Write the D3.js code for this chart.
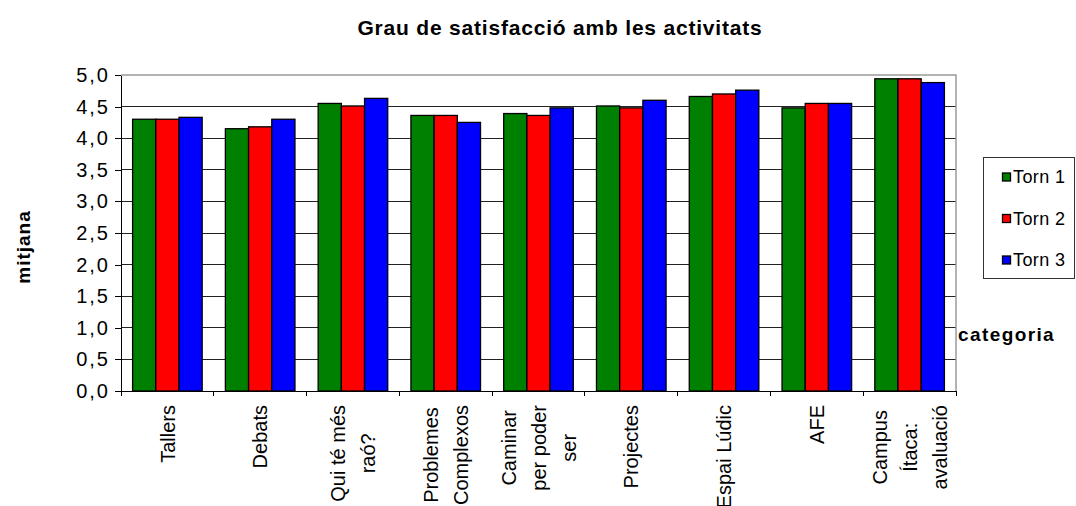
<!DOCTYPE html>
<html>
<head>
<meta charset="utf-8">
<script src="https://cdn.jsdelivr.net/npm/d3@7"></script>
<style>
  body { margin: 0; background: #fff; }
  svg { display: block; font-family: "Liberation Sans", Arial, sans-serif; }
  .axis path, .axis line { stroke: #000; shape-rendering: crispEdges; }
  .grid line { stroke: #222; shape-rendering: crispEdges; }
  .bar { stroke: #000; stroke-width: 1.3; }
</style>
</head>
<body>
<div id="chart"></div>
<script>
// categories, each split in the lines shown under the axis
var categories = [
  ['Tallers'],
  ['Debats'],
  ['Qui té més', 'raó?'],
  ['Problemes', 'Complexos'],
  ['Caminar', 'per poder', 'ser'],
  ['Projectes'],
  ['Espai Lúdic'],
  ['AFE'],
  ['Campus', 'Ítaca:', 'avaluació']
];
var series = ['Torn 1', 'Torn 2', 'Torn 3'];
var colors = ['#008000', '#ff0000', '#0000ff'];
var torn1 = [4.30, 4.15, 4.55, 4.36, 4.39, 4.51, 4.66, 4.48, 4.94];
var torn2 = [4.30, 4.18, 4.51, 4.36, 4.36, 4.48, 4.70, 4.55, 4.94];
var torn3 = [4.33, 4.30, 4.63, 4.25, 4.48, 4.60, 4.76, 4.55, 4.88];
var yTicks = [0, 0.5, 1, 1.5, 2, 2.5, 3, 3.5, 4, 4.5, 5];

var width = 1076
  , height = 506
  , plotLeft = 121
  , plotRight = 956
  , plotTop = 75
  , plotBottom = 391
  , values = [torn1, torn2, torn3]
  , keys = categories.map((d, i) => 'c' + i)
  , fmt = d3.formatLocale({ decimal: ',', thousands: '.', grouping: [3], currency: ['', '€'] }).format('.1f')
  ;

var svg = d3.select('#chart').append('svg')
    .attr('width', width)
    .attr('height', height);

// scales
var x0 = d3.scaleBand()
    .domain(keys)
    .range([plotLeft, plotRight]);

var x1 = d3.scaleBand()
    .domain(series)
    .range([x0.bandwidth() / 8, x0.bandwidth() * 7 / 8]);

var y = d3.scaleLinear()
    .domain([0, 5])
    .range([plotBottom, plotTop]);

// title
svg.append('text')
    .attr('x', 560)
    .attr('y', 35)
    .attr('text-anchor', 'middle')
    .style('font-size', '21px')
    .style('font-weight', 'bold')
    .style('letter-spacing', '0.8px')
    .text('Grau de satisfacció amb les activitats');

// grid lines
svg.append('g')
    .attr('class', 'grid')
    .selectAll('line')
    .data(yTicks.filter(d => d > 0 && d < 5))
  .enter().append('line')
    .attr('x1', plotLeft)
    .attr('x2', plotRight)
    .attr('y1', d => y(d))
    .attr('y2', d => y(d));

// plot border (top and right)
svg.append('path')
    .attr('d', 'M' + plotLeft + ',' + y(5) + 'H' + plotRight + 'V' + y(0))
    .attr('fill', 'none')
    .attr('stroke', '#9a9a9a')
    .attr('stroke-width', 1.5);

// bars
var groups = svg.append('g')
    .selectAll('g')
    .data(keys)
  .enter().append('g')
    .attr('transform', d => 'translate(' + x0(d) + ',0)');

groups.selectAll('rect')
    .data((d, i) => series.map((s, j) => ({ s: s, j: j, v: values[j][i] })))
  .enter().append('rect')
    .attr('class', 'bar')
    .attr('x', d => x1(d.s))
    .attr('width', x1.bandwidth())
    .attr('y', d => y(d.v))
    .attr('height', d => y(0) - y(d.v))
    .attr('fill', d => colors[d.j]);

// y axis
var yAxis = svg.append('g')
    .attr('class', 'axis')
    .attr('transform', 'translate(' + plotLeft + ',0)')
    .call(d3.axisLeft(y).tickValues(yTicks).tickSize(6).tickSizeOuter(0).tickFormat(fmt));

yAxis.selectAll('text')
    .attr('x', -11)
    .style('font-size', '20px')
    .style('letter-spacing', '2px')
    .style('font-family', '"Liberation Sans", Arial, sans-serif');

// x axis: ticks on category borders
var xAxis = svg.append('g')
    .attr('class', 'axis')
    .attr('transform', 'translate(0,' + plotBottom + ')');

xAxis.append('line')
    .attr('x1', plotLeft)
    .attr('x2', plotRight);

xAxis.selectAll('.tick')
    .data(keys.map(d => x0(d)).concat([plotRight]))
  .enter().append('line')
    .attr('class', 'tick')
    .attr('x1', d => d)
    .attr('x2', d => d)
    .attr('y1', 0)
    .attr('y2', 5);

// category labels, rotated, lines centred on the longest one
var lineH = 30
  , labelTop = 405;

var labels = svg.append('g')
    .selectAll('g')
    .data(categories)
  .enter().append('g')
    .attr('transform', (d, i) => 'translate(' + (x0(keys[i]) + x0.bandwidth() / 2) + ',0)');

labels.each(function(lines) {
  var g = d3.select(this)
    , n = lines.length;
  var t = g.selectAll('text')
      .data(lines)
    .enter().append('text')
      .attr('text-anchor', 'middle')
      .attr('dy', '0.36em')
      .style('font-size', '20px')
      .text(d => d);
  var maxLen = d3.max(t.nodes(), node => node.getComputedTextLength());
  t.attr('transform', (d, i) => 'translate(' + ((i - (n - 1) / 2) * lineH) + ',' + (labelTop + maxLen / 2) + ') rotate(-90)');
});

// axis titles
svg.append('text')
    .attr('transform', 'translate(23,247) rotate(-90)')
    .attr('text-anchor', 'middle')
    .attr('dy', '0.36em')
    .style('font-size', '19px')
    .style('font-weight', 'bold')
    .style('letter-spacing', '1px')
    .text('mitjana');

svg.append('text')
    .attr('x', 958)
    .attr('y', 341)
    .style('font-size', '19px')
    .style('font-weight', 'bold')
    .style('letter-spacing', '1.4px')
    .text('categoria');

// legend
var legend = svg.append('g');

legend.append('rect')
    .attr('x', 983.5)
    .attr('y', 157.5)
    .attr('width', 91)
    .attr('height', 121)
    .attr('fill', '#fff')
    .attr('stroke', '#333');

var item = legend.selectAll('.item')
    .data(series)
  .enter().append('g')
    .attr('class', 'item')
    .attr('transform', (d, i) => 'translate(1002,' + (177 + i * 41.5) + ')');

item.append('rect')
    .attr('x', 0.5)
    .attr('y', -4)
    .attr('width', 8)
    .attr('height', 8)
    .attr('fill', (d, i) => colors[i])
    .attr('stroke', '#000')
    .attr('stroke-width', 1.3);

item.append('text')
    .attr('x', 11)
    .attr('dy', '0.36em')
    .style('font-size', '18px')
    .style('letter-spacing', '0.4px')
    .text(d => d);
</script>
</body>
</html>
